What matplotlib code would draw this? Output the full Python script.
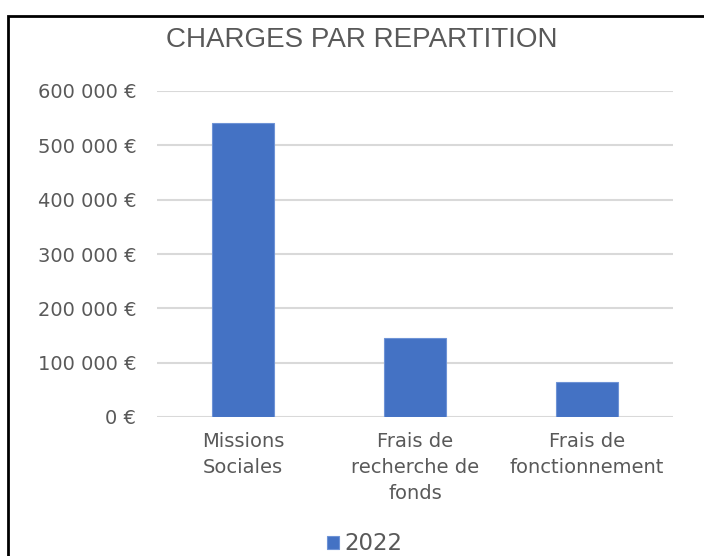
import matplotlib.pyplot as plt
import matplotlib.patches as patches
from matplotlib.ticker import FuncFormatter

categories = ["Missions\nSociales", "Frais de\nrecherche de\nfonds", "Frais de\nfonctionnement"]
values_2022 = [541000, 146000, 65000]
yticks = [0, 100000, 200000, 300000, 400000, 500000, 600000]

plt.rcParams['font.family'] = ['DejaVu Sans']
grey = '#595959'

fig = plt.figure(figsize=(7.04, 5.56), dpi=100)
ax = fig.add_axes([157/704, 1 - 417/556, 516/704, 326/556])

x = range(len(categories))
ax.bar(x, values_2022, width=0.36, color='#4472C4', edgecolor='#6e93d6',
       linewidth=0.8, label='2022', zorder=3)

ax.set_xlim(-0.5, 2.5)
ax.set_ylim(0, 600000)
ax.set_yticks(yticks)
ax.yaxis.set_major_formatter(FuncFormatter(
    lambda v, p: ("{:,}".format(int(v)).replace(",", " ") + " €")))
ax.set_xticks(list(x))
ax.set_xticklabels(categories, linespacing=1.45)

ax.grid(axis='y', color='#d9d9d9', linewidth=1.5, zorder=0)
for s in ax.spines.values():
    s.set_visible(False)
ax.tick_params(axis='both', length=0, colors=grey, labelsize=14)
ax.tick_params(axis='y', pad=15)
ax.tick_params(axis='x', pad=11)

fig.text(362/704, 1 - 40/556, "CHARGES PAR REPARTITION", ha='center', va='center',
         fontsize=20, color=grey, family='Liberation Sans')

fig.legend(loc='center', bbox_to_anchor=(365/704, 1 - 544/556), frameon=False,
           fontsize=16.5, labelcolor=grey, handlelength=0.5, handleheight=0.5,
           handletextpad=0.25)

# chart border
fig.patches.append(patches.Rectangle((8/704, -0.05), 1.0, 1 - 16/556 + 0.05,
                                     transform=fig.transFigure, fill=False,
                                     edgecolor='black', linewidth=2))

fig.savefig('out.png', dpi=100)
